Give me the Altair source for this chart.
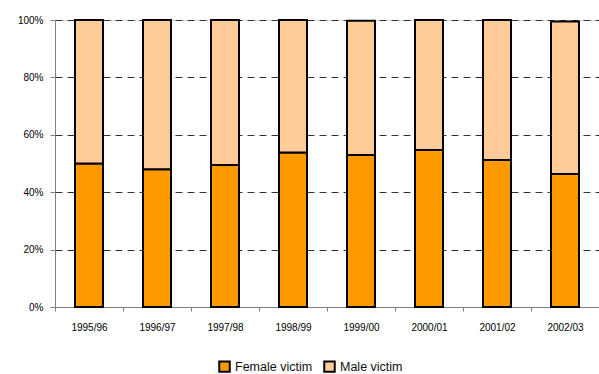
import altair as alt
import pandas as pd

# Share of victims by sex, per financial year (%)
years = ["1995/96", "1996/97", "1997/98", "1998/99", "1999/00", "2000/01", "2001/02", "2002/03"]
female_share = [50.0, 48.0, 49.5, 53.8, 53.0, 54.7, 51.2, 46.3]
male_share = [50.0, 52.0, 50.5, 46.2, 46.7, 45.3, 48.8, 53.2]
series = ["Female victim", "Male victim"]
colors = ["#FF9900", "#FFCC99"]
y_ticks = [0, 20, 40, 60, 80, 100]

rows = []
for yr, f, m in zip(years, female_share, male_share):
    rows.append({"year": yr, "sex": series[0], "share": f, "rank": 0})
    rows.append({"year": yr, "sex": series[1], "share": m, "rank": 1})
df = pd.DataFrame(rows)

FONT = "Liberation Sans"

bars = (
    alt.Chart(df)
    .mark_bar(stroke="black", strokeWidth=2, width=alt.RelativeBandSize(28 / 68))
    .encode(
        x=alt.X(
            "year:N",
            sort=years,
            title=None,
            scale=alt.Scale(paddingInner=0, paddingOuter=0),
            axis=alt.Axis(
                labelAngle=0,
                tickBand="extent",
                tickSize=4,
                labelPadding=11,
                domainColor="#808080",
                tickColor="#808080",
                grid=False,
            ),
        ),
        y=alt.Y(
            "share:Q",
            stack="zero",
            title=None,
            scale=alt.Scale(domain=[0, 100], nice=False),
            axis=alt.Axis(
                values=y_ticks,
                labelExpr="datum.value + '%'",
                tickSize=5,
                labelPadding=7,
                domainColor="#808080",
                tickColor="#808080",
                grid=True,
                gridColor="#333333",
                gridDash=[7, 5],
                gridWidth=1,
            ),
        ),
        color=alt.Color(
            "sex:N",
            scale=alt.Scale(domain=series, range=colors),
            legend=alt.Legend(
                title=None,
                orient="none",
                direction="horizontal",
                legendX=163,
                legendY=340,
                padding=0,
                symbolType="square",
                symbolSize=110,
                symbolStrokeColor="black",
                symbolStrokeWidth=2,
                symbolOpacity=1,
                labelFontSize=12.5,
                labelFont=FONT,
                labelColor="#111111",
                labelOffset=4,
                columnPadding=7,
            ),
        ),
        order=alt.Order("rank:Q"),
    )
)

chart = (
    bars.properties(
        width=544,
        height=287,
        padding={"left": 55, "top": 20, "right": 0, "bottom": 67},
        autosize=alt.AutoSizeParams(type="none"),
    )
    .configure_view(stroke=None)
    .configure_axis(
        labelFont=FONT,
        labelFontSize=11,
        labelColor="#111111",
        domainWidth=1,
    )
    .configure(background="white")
)

chart.save("out.html", embed_options={"renderer": "svg", "actions": False})
